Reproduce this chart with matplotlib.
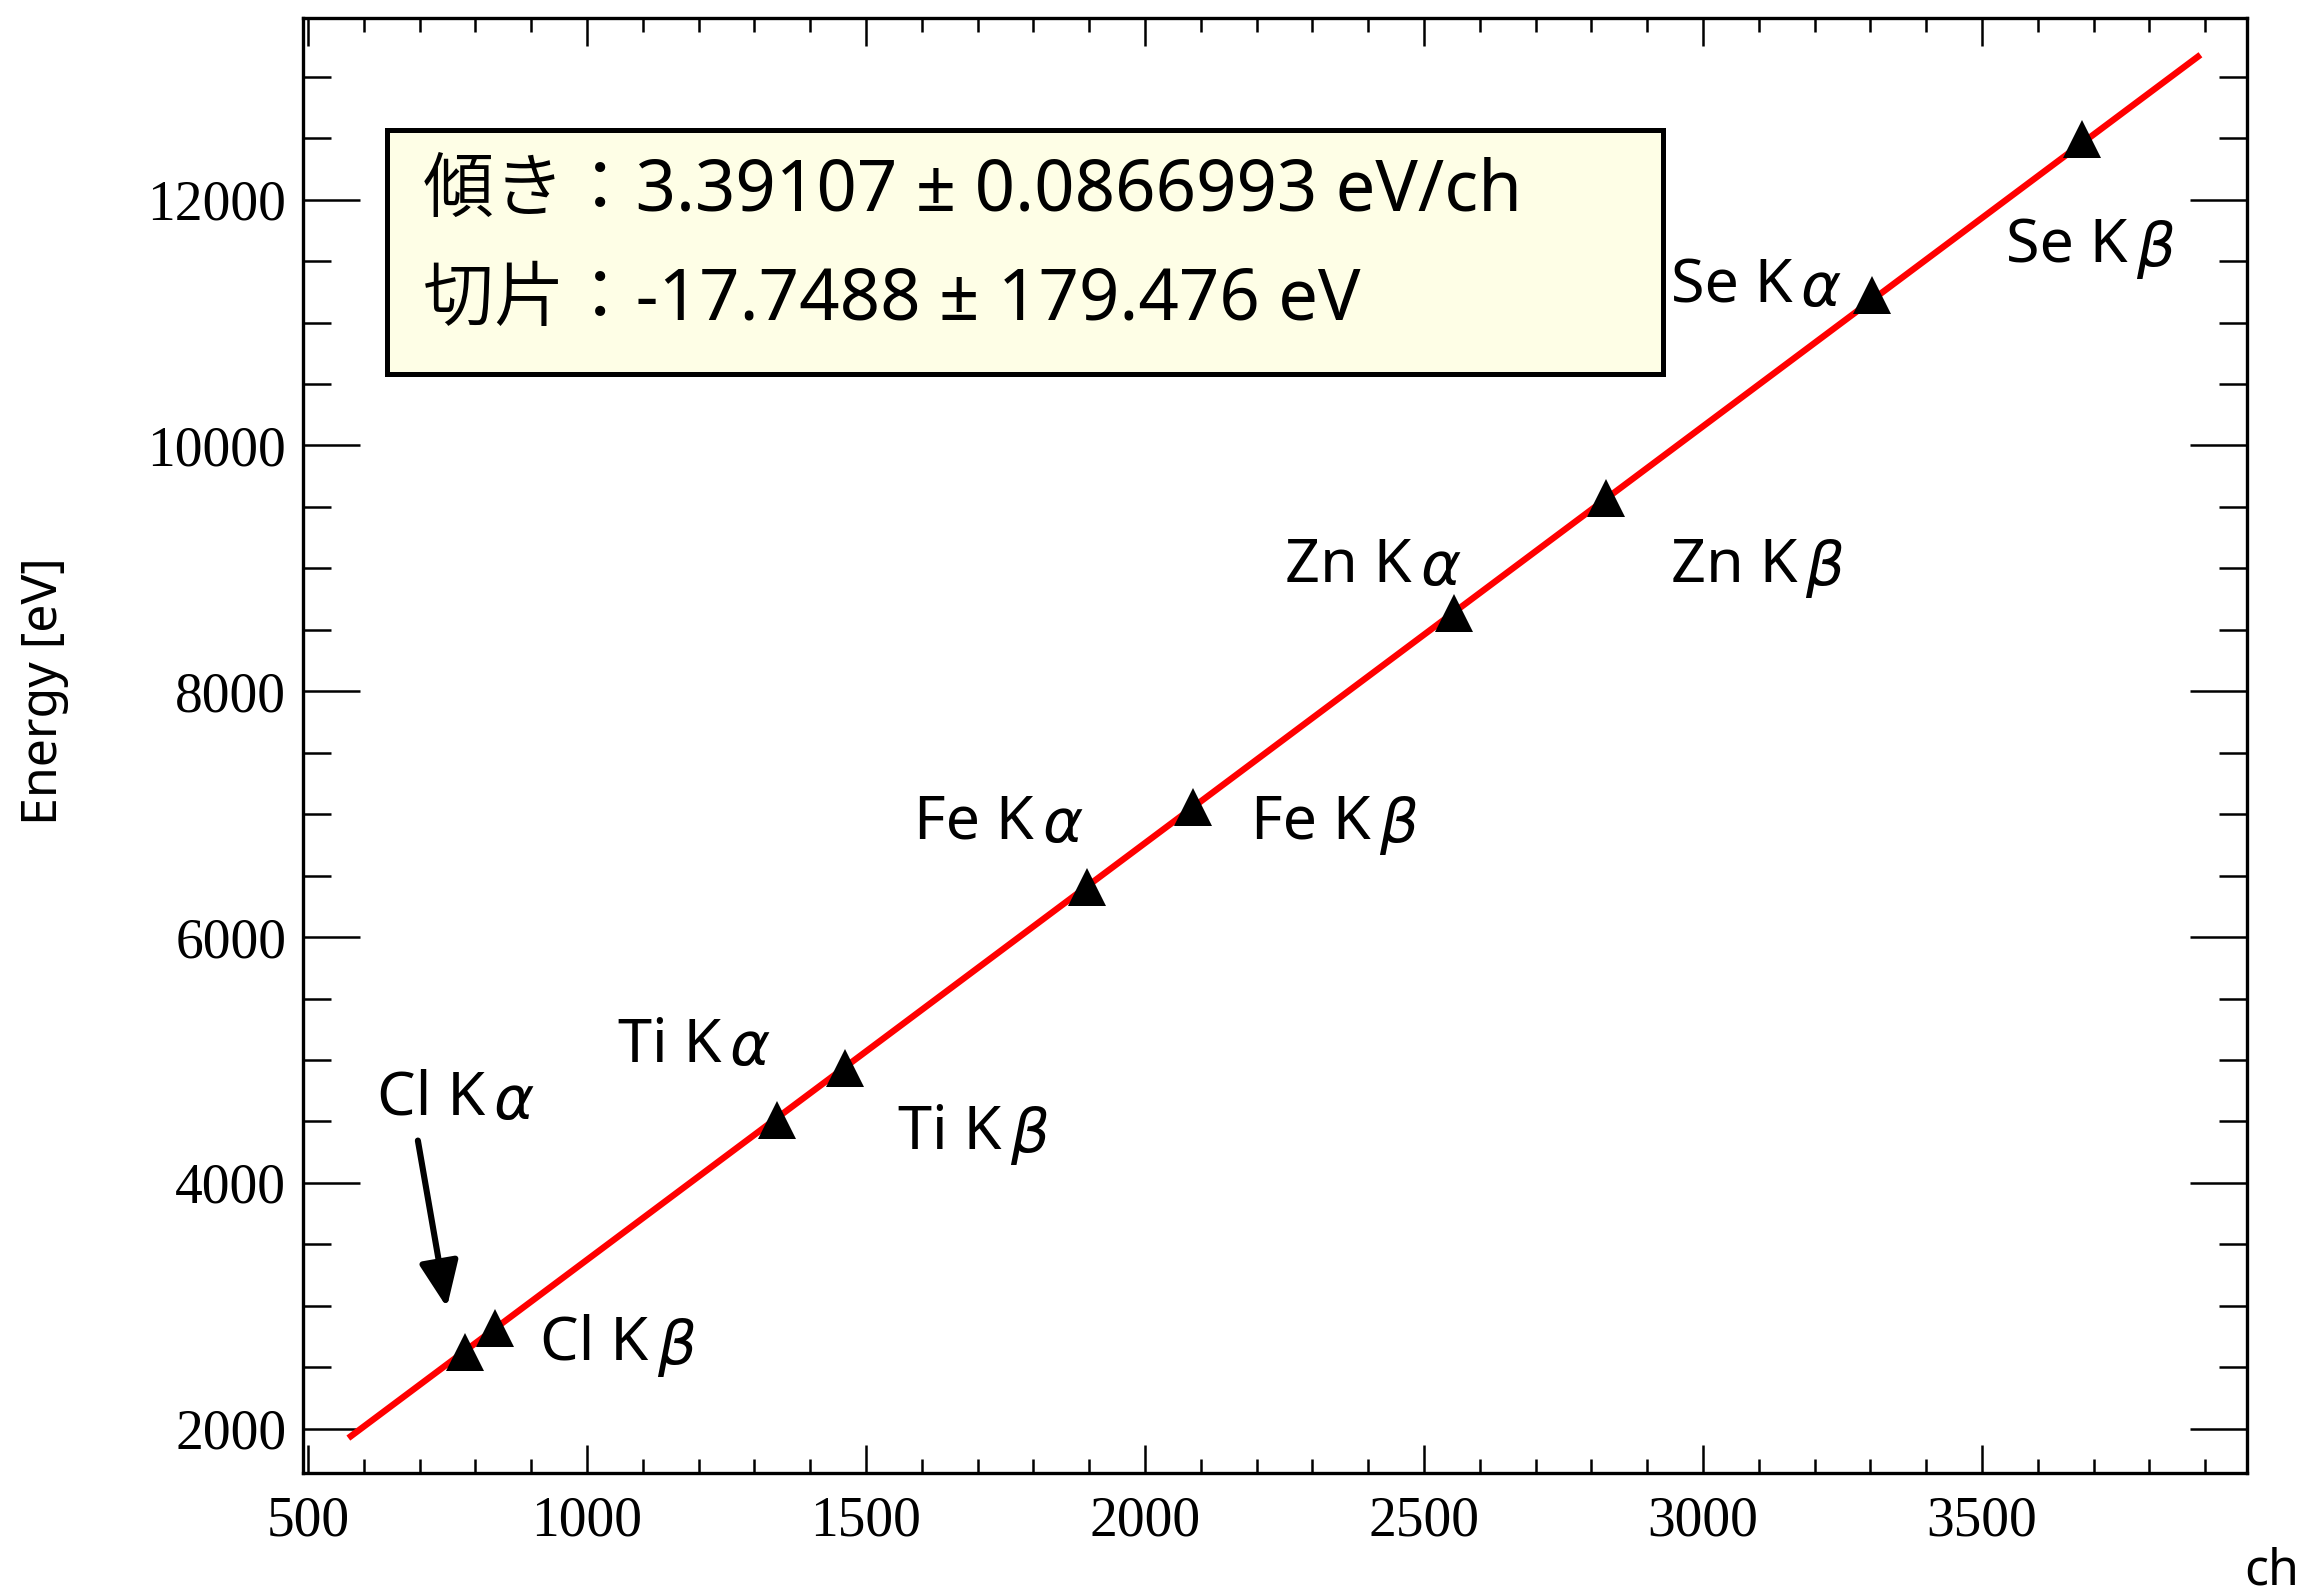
import numpy as np
import matplotlib
matplotlib.use('Agg')
from matplotlib import pyplot as plt
from matplotlib.patches import Rectangle
from matplotlib.ticker import MultipleLocator

# measured peaks
lines = ['Cl', 'Cl', 'Ti', 'Ti', 'Fe', 'Fe', 'Zn', 'Zn', 'Se', 'Se']
kind = ['α', 'β'] * 5
channel = [781, 836, 1341, 1462, 1897, 2087, 2554, 2826, 3303, 3680]
energy = [2622, 2816, 4511, 4932, 6404, 7058, 8639, 9572, 11222, 12496]

# linear fit result
slope, slope_err = 3.39107, 0.0866993
intercept, intercept_err = -17.7488, 179.476
fit_range = [577, 3887]

# label positions (ch, eV), left edge of text
label_pos = [(623, 4680), (916, 2685), (1055, 5113), (1557, 4404),
             (1586, 6928), (2190, 6928), (2251, 9019), (2942, 9019),
             (2942, 11291), (3544, 11615)]

sans = ['Noto Sans', 'Noto Sans CJK JP', 'DejaVu Sans']
plt.rcParams['font.family'] = sans

fig = plt.figure(figsize=(11.58, 7.97), dpi=200)
ax = fig.add_axes([0.1308, 0.0759, 0.8394, 0.9128])

# fit line
xf = np.array(fit_range, dtype=float)
ax.plot(xf, slope * xf + intercept, color='red', lw=2.3, zorder=2)

# data points
ax.plot(channel, energy, '^', color='black', ms=13.5, mew=0, zorder=3)

# peak names, greek letter as a separate italic text
for name, k, (lx, ly) in zip(lines, kind, label_pos):
    t = ax.text(lx, ly, name + ' K', fontsize=22, ha='left', va='center',
                fontweight=350)
    ax.annotate(k, xy=(1, 0.5), xycoords=t, xytext=(3, -1),
                textcoords='offset points', fontsize=22, ha='left',
                va='center', family='DejaVu Sans', style='italic')

# arrow to Cl K alpha
ax.annotate('', xy=(749, 2986), xytext=(697, 4344),
            arrowprops=dict(arrowstyle='-|>,head_width=0.6,head_length=1.4',
                            color='black', lw=2.2, shrinkA=0, shrinkB=0))

# fit parameter box
ax.add_patch(Rectangle((0.0432, 0.7553), 0.6564, 0.1677, transform=ax.transAxes,
                       facecolor='#fefee6', edgecolor='black', lw=1.8, zorder=4))
ax.text(0.0617, 0.8804, '傾き：%g ± %g eV/ch' % (slope, slope_err),
        transform=ax.transAxes, fontsize=25.5, va='center', ha='left', zorder=5,
        fontweight=350)
ax.text(0.0617, 0.8055, '切片：%g ± %g eV' % (intercept, intercept_err),
        transform=ax.transAxes, fontsize=25.5, va='center', ha='left', zorder=5,
        fontweight=350)

ax.set_xlim(491, 3975)
ax.set_ylim(1639, 13478)
ax.xaxis.set_major_locator(MultipleLocator(500))
ax.xaxis.set_minor_locator(MultipleLocator(100))
ax.yaxis.set_major_locator(MultipleLocator(2000))
ax.yaxis.set_minor_locator(MultipleLocator(500))

ax.tick_params(which='both', direction='in', top=True, right=True, width=0.9)
ax.tick_params(axis='x', which='major', length=10, pad=8)
ax.tick_params(axis='x', which='minor', length=5)
ax.tick_params(axis='y', which='major', length=20.5, pad=6)
ax.tick_params(axis='y', which='minor', length=10)
for lab in ax.get_xticklabels() + ax.get_yticklabels():
    lab.set_family('Liberation Serif')
    lab.set_fontsize(20)
for sp in ax.spines.values():
    sp.set_linewidth(1.2)

fig.text(0.019, 0.5665, 'Energy [eV]', rotation=90, fontsize=18,
         ha='center', va='center', fontweight='light')
fig.text(0.981, 0.014, 'ch', fontsize=18, ha='center', va='center',
         fontweight='light')

fig.savefig('out.png', dpi=200)
